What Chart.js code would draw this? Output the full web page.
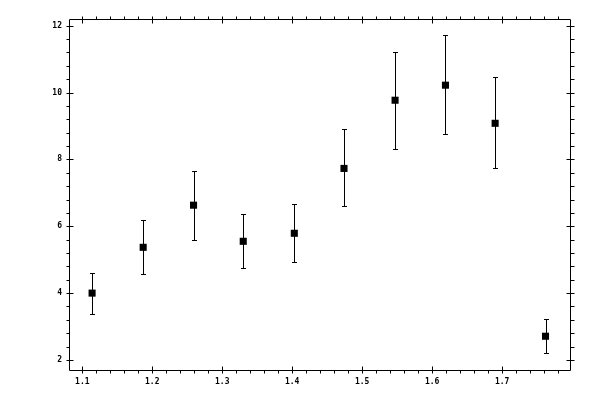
<!DOCTYPE html>
<html>
<head>
<meta charset="utf-8">
<script src="https://cdn.jsdelivr.net/npm/chart.js@4"></script>
<style>
    html, body { margin: 0; padding: 0; background: #fff; }
    #wrap { width: 600px; height: 400px; }
</style>
</head>
<body>
<div id="wrap"><canvas id="chart" width="600" height="400"></canvas></div>
<script>
// 数据点
const xValues = [1.114, 1.187, 1.259, 1.330, 1.403, 1.474, 1.547, 1.619, 1.690, 1.762];
const yValues = [4.00, 5.37, 6.63, 5.55, 5.79, 7.73, 9.77, 10.22, 9.08, 2.71];
const yUpper  = [4.61, 6.18, 7.64, 6.36, 6.66, 8.90, 11.20, 11.71, 10.46, 3.22];
const yLower  = [3.37, 4.56, 5.58, 4.74, 4.92, 6.60, 8.30, 8.75, 7.73, 2.20];

// 刻度
const xTicks = [1.1, 1.2, 1.3, 1.4, 1.5, 1.6, 1.7];
const yTicks = [2, 4, 6, 8, 10, 12];
const xMinorStep = 0.02;
const yMinorStep = 0.4;

// 误差棒
const errorBarPlugin = {
    id: 'errorBars',
    beforeDatasetsDraw(chart) {
        const ctx = chart.ctx;
        const xs = chart.scales.x, ys = chart.scales.y;
        ctx.save();
        ctx.strokeStyle = '#000';
        ctx.lineWidth = 1;
        xValues.forEach((xv, i) => {
            const px = Math.round(xs.getPixelForValue(xv)) + 0.5;
            const top = Math.round(ys.getPixelForValue(yUpper[i])) + 0.5;
            const bot = Math.round(ys.getPixelForValue(yLower[i])) + 0.5;
            ctx.beginPath();
            ctx.moveTo(px, top); ctx.lineTo(px, bot);
            ctx.moveTo(px - 2.5, top); ctx.lineTo(px + 2.5, top);
            ctx.moveTo(px - 2.5, bot); ctx.lineTo(px + 2.5, bot);
            ctx.stroke();
        });
        ctx.restore();
    }
};

// 边框和刻度线
const framePlugin = {
    id: 'frame',
    afterDraw(chart) {
        const ctx = chart.ctx;
        const a = chart.chartArea;
        const xs = chart.scales.x, ys = chart.scales.y;
        const L = Math.round(a.left) + 0.5, R = Math.round(a.right) + 0.5;
        const T = Math.round(a.top) + 0.5, B = Math.round(a.bottom) + 0.5;
        ctx.save();
        ctx.strokeStyle = '#000';
        ctx.lineWidth = 1;
        ctx.beginPath();
        ctx.rect(L, T, R - L, B - T);

        const isMajor = (v, list) => list.some(t => Math.abs(t - v) < 1e-6);

        for (let k = Math.ceil(xs.min / xMinorStep); k * xMinorStep <= xs.max + 1e-9; k++) {
            const v = k * xMinorStep;
            const px = Math.round(xs.getPixelForValue(v)) + 0.5;
            const inner = isMajor(v, xTicks) ? 4 : 0;
            ctx.moveTo(px, B + 3); ctx.lineTo(px, B - inner);
            ctx.moveTo(px, T - 3); ctx.lineTo(px, T + inner);
        }
        for (let k = Math.ceil(ys.min / yMinorStep); k * yMinorStep <= ys.max + 1e-9; k++) {
            const v = k * yMinorStep;
            const py = Math.round(ys.getPixelForValue(v)) + 0.5;
            const inner = isMajor(v, yTicks) ? 4 : 0;
            ctx.moveTo(L - 3, py); ctx.lineTo(L + inner, py);
            ctx.moveTo(R + 4, py); ctx.lineTo(R - inner, py);
        }
        ctx.stroke();
        ctx.restore();
    }
};

const tickFont = { family: 'DejaVu Sans Mono', size: 8, weight: 'bold' };

new Chart(document.getElementById('chart'), {
    type: 'scatter',
    data: {
        datasets: [{
            data: xValues.map((x, i) => ({ x: x, y: yValues[i] })),
            pointStyle: 'rect',
            pointRadius: 5,
            pointHoverRadius: 5,
            backgroundColor: '#000',
            borderColor: '#000',
            borderWidth: 0
        }]
    },
    options: {
        responsive: false,
        animation: false,
        events: [],
        layout: { padding: { left: 0, top: 19, right: 30, bottom: 0 } },
        plugins: {
            legend: { display: false },
            tooltip: { enabled: false }
        },
        scales: {
            x: {
                type: 'linear',
                min: 1.081,
                max: 1.797,
                grid: { display: false, drawTicks: false },
                border: { display: false },
                afterBuildTicks: s => { s.ticks = xTicks.map(v => ({ value: v })); },
                afterFit: s => { s.height = 30; },
                ticks: {
                    padding: 7,
                    color: '#000',
                    font: tickFont,
                    maxRotation: 0,
                    callback: v => v.toFixed(1)
                }
            },
            y: {
                type: 'linear',
                min: 1.70,
                max: 12.2,
                grid: { display: false, drawTicks: false },
                border: { display: false },
                afterBuildTicks: s => { s.ticks = yTicks.map(v => ({ value: v })); },
                afterFit: s => { s.width = 69; },
                ticks: {
                    padding: 7,
                    color: '#000',
                    font: tickFont,
                    callback: v => String(v)
                }
            }
        }
    },
    plugins: [errorBarPlugin, framePlugin]
});
</script>
</body>
</html>
